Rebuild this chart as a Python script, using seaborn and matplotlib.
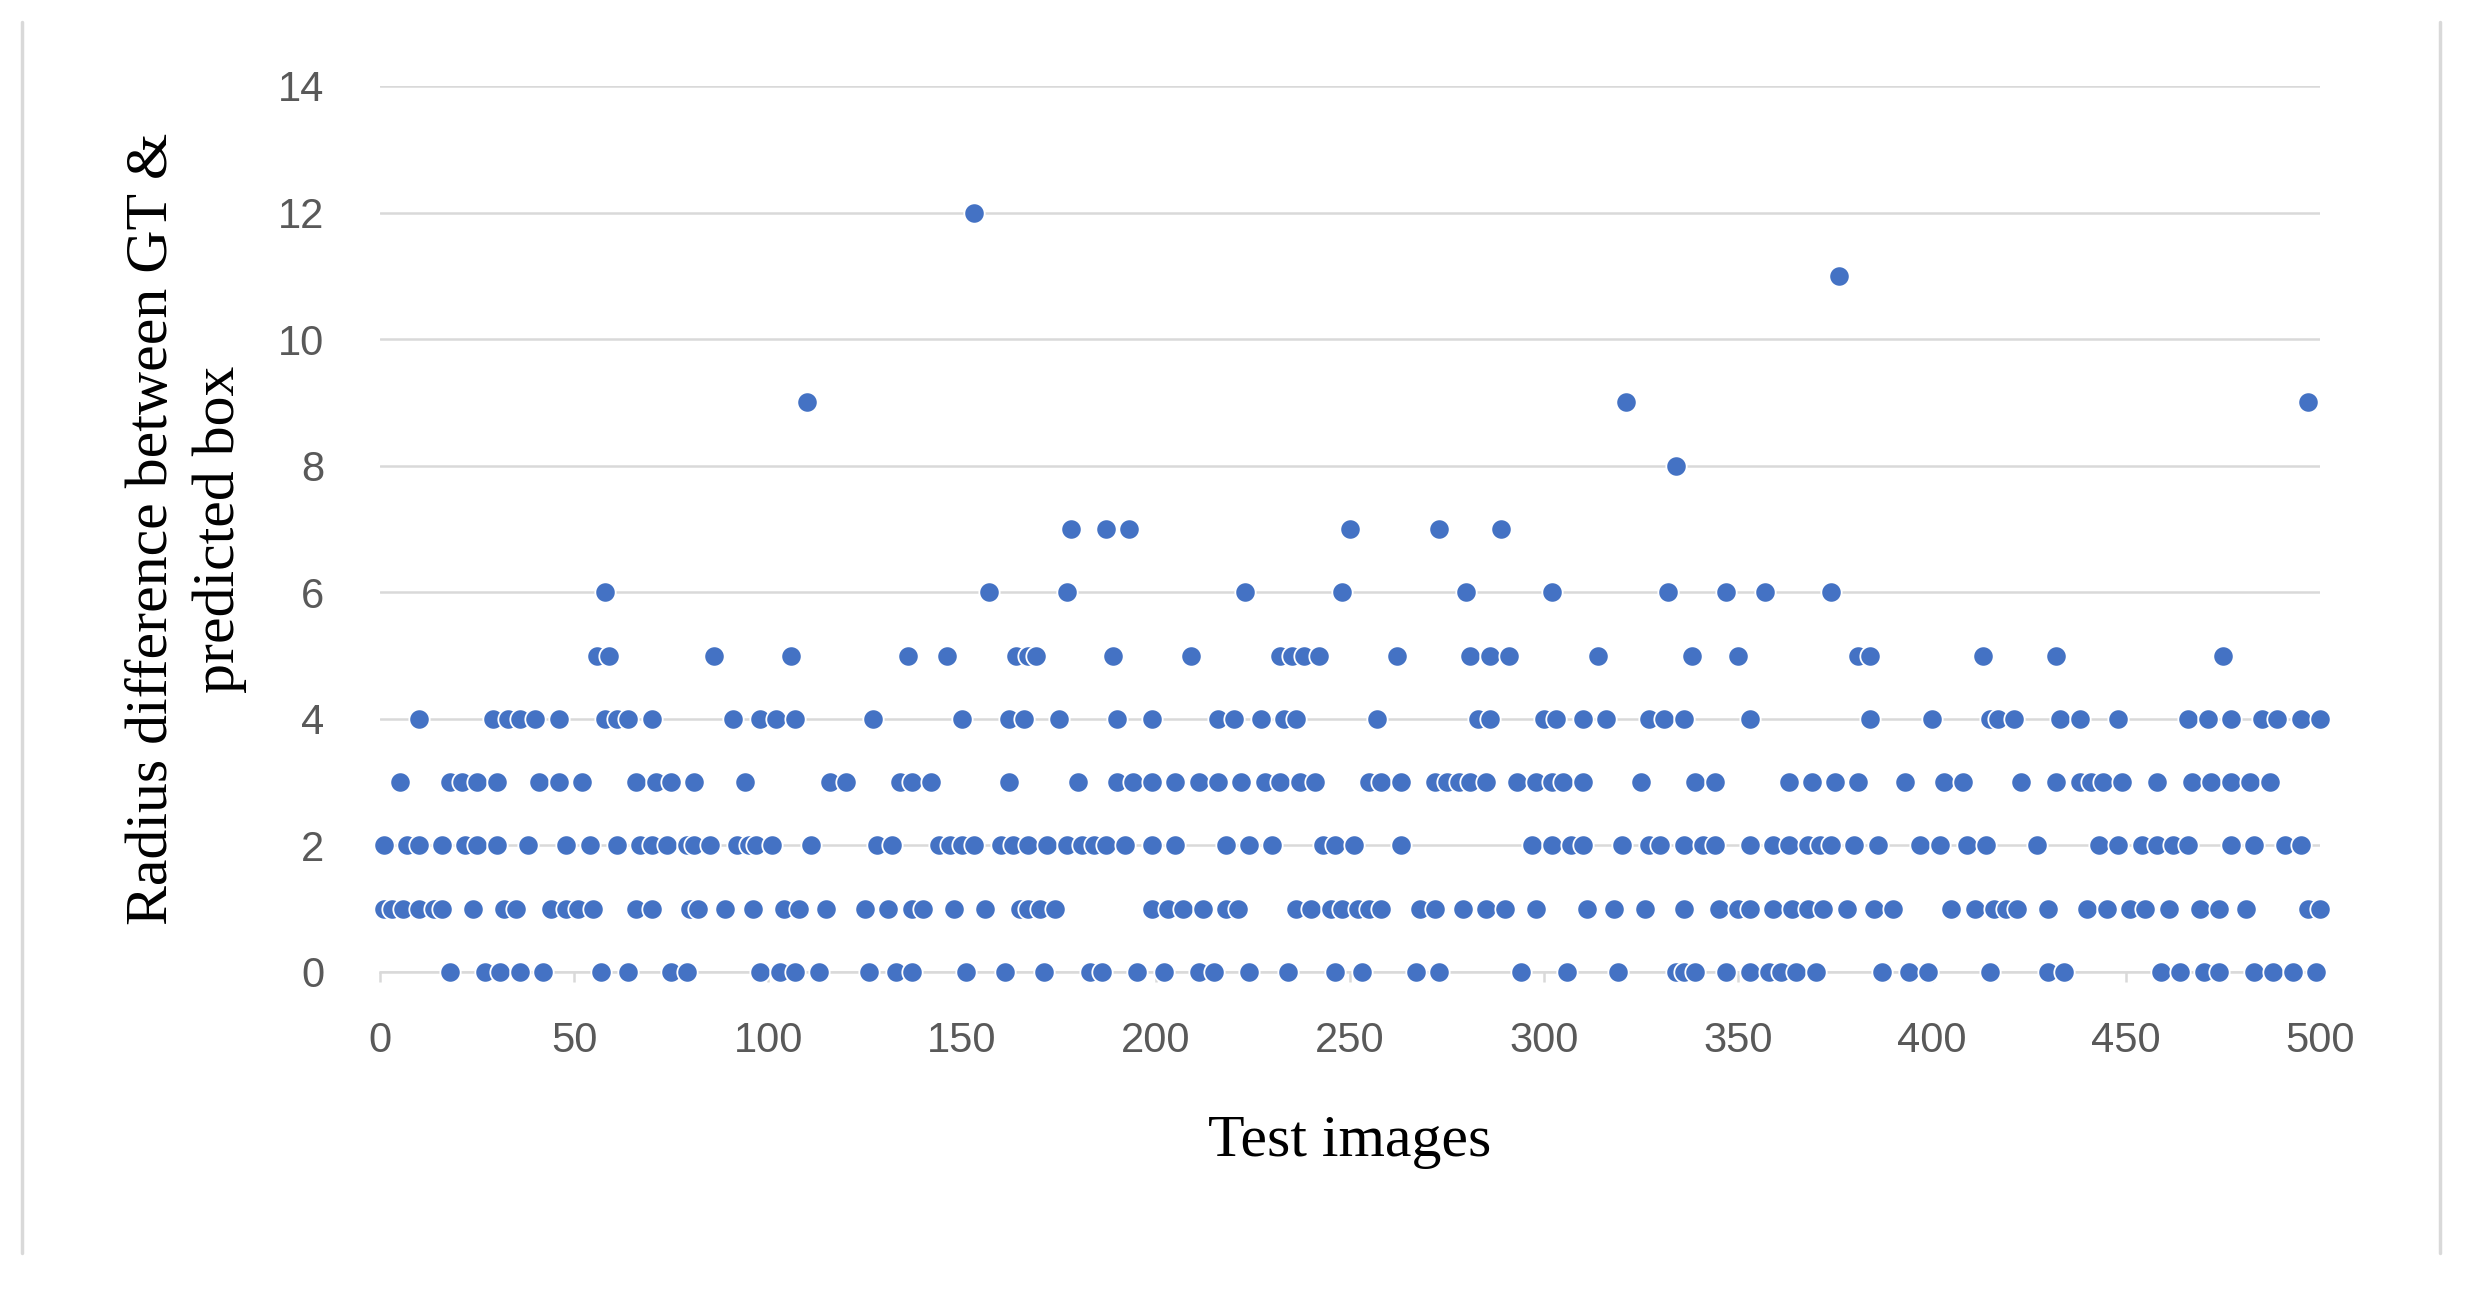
import matplotlib
matplotlib.use("Agg")
import matplotlib.pyplot as plt
from matplotlib.lines import Line2D
import pandas as pd
import seaborn as sns

# Test-image indices grouped by their radius difference value
images_r0 = [18, 27, 31, 36, 42, 57, 64, 75, 79, 98, 103, 107, 113, 126, 133, 137, 151, 161,
             171, 183, 186, 195, 202, 211, 215, 224, 234, 246, 253, 267, 273, 294, 306, 319,
             334, 336, 339, 347, 353, 358, 361, 365, 370, 387, 394, 399, 415, 430, 434, 459,
             464, 470, 474, 483, 488, 493, 499]
images_r1 = [1, 3, 6, 10, 14, 16, 24, 32, 35, 44, 48, 51, 55, 66, 70, 80, 82, 89, 96, 104,
             108, 115, 125, 131, 137, 140, 148, 156, 165, 167, 170, 174, 199, 203, 207, 212,
             218, 221, 236, 240, 245, 248, 252, 255, 258, 268, 272, 279, 285, 290, 298, 311,
             318, 326, 336, 345, 350, 353, 359, 364, 368, 372, 378, 385, 390, 405, 411, 416,
             419, 422, 430, 440, 445, 451, 455, 461, 469, 474, 481, 497, 500]
images_r2 = [1, 7, 10, 16, 22, 25, 30, 38, 48, 54, 61, 67, 70, 74, 79, 81, 85, 92, 95, 97,
             101, 111, 128, 132, 144, 147, 150, 153, 160, 163, 167, 172, 177, 181, 184, 187,
             192, 199, 205, 218, 224, 230, 243, 246, 251, 263, 297, 302, 307, 310, 320, 327,
             330, 336, 341, 344, 353, 359, 363, 368, 371, 374, 380, 386, 397, 402, 409, 414,
             427, 443, 448, 454, 458, 462, 466, 477, 483, 491, 495]
images_r3 = [5, 18, 21, 25, 30, 41, 46, 52, 66, 71, 75, 81, 94, 116, 120, 134, 137, 142, 162,
             180, 190, 194, 199, 205, 211, 216, 222, 228, 232, 237, 241, 255, 258, 263, 272,
             275, 278, 281, 285, 293, 298, 302, 305, 310, 325, 339, 344, 363, 369, 375, 381,
             393, 403, 408, 423, 432, 438, 441, 444, 449, 458, 467, 472, 477, 482, 487]
images_r4 = [10, 29, 33, 36, 40, 46, 58, 61, 64, 70, 91, 98, 102, 107, 127, 150, 162, 166,
             175, 190, 199, 216, 220, 227, 233, 236, 257, 283, 286, 300, 303, 310, 316, 327,
             331, 336, 353, 384, 400, 415, 417, 421, 433, 438, 448, 466, 471, 477, 485, 489,
             495, 500]
images_r5 = [56, 59, 86, 106, 136, 146, 164, 167, 169, 189, 209, 232, 235, 238, 242, 262,
             281, 286, 291, 314, 338, 350, 381, 384, 413, 432, 475]
images_r6 = [58, 157, 177, 223, 248, 280, 302, 332, 347, 357, 374]
images_r7 = [178, 187, 193, 250, 273, 289]
images_r8 = [334]
images_r9 = [110, 321, 497]
images_r11 = [376]
images_r12 = [153]

radius_values = [0, 1, 2, 3, 4, 5, 6, 7, 8, 9, 11, 12]
image_groups = [images_r0, images_r1, images_r2, images_r3, images_r4, images_r5,
                images_r6, images_r7, images_r8, images_r9, images_r11, images_r12]

x_ticks = [0, 50, 100, 150, 200, 250, 300, 350, 400, 450, 500]
y_ticks = [0, 2, 4, 6, 8, 10, 12, 14]

rows = []
for val, group in zip(radius_values, image_groups):
    for img in group:
        rows.append({"Test images": img, "Radius": val})
df = pd.DataFrame(rows)

sns.set_theme(style="white")
plt.rcParams["font.family"] = ["Liberation Sans", "DejaVu Sans"]

fig = plt.figure(figsize=(24.65, 12.91), dpi=100)
ax = fig.add_axes([0.1542, 0.2471, 0.9412 - 0.1542, 0.9334 - 0.2471])

sns.scatterplot(data=df, x="Test images", y="Radius", ax=ax, color="#4472C4",
                s=215, edgecolor="white", linewidth=1.3, zorder=3, legend=False,
                clip_on=False)

ax.set_xlim(0, 500)
ax.set_ylim(0, 14)
ax.set_xticks(x_ticks)
ax.set_yticks(y_ticks)
ax.grid(axis="y", color="#d9d9d9", linewidth=1.8)
ax.grid(axis="x", visible=False)
ax.set_axisbelow(True)
for side in ["top", "right", "left"]:
    ax.spines[side].set_visible(False)
ax.spines["bottom"].set_color("#d9d9d9")
ax.spines["bottom"].set_linewidth(1.8)

ax.tick_params(axis="x", length=7, width=1.8, color="#d9d9d9", labelsize=30,
               labelcolor="#595959", pad=28, bottom=True)
ax.tick_params(axis="y", length=0, labelsize=30, labelcolor="#595959", pad=40)

ax.set_xlabel("Test images", fontsize=43, family="Liberation Serif", color="black")
ax.set_ylabel("Radius difference between GT &\npredicted box", fontsize=43,
              family="Liberation Serif", color="black", linespacing=1.3)
ax.xaxis.set_label_coords(0.5, -0.192)
ax.xaxis.label.set_va("center")
ax.yaxis.set_label_coords(-0.100, 0.5)
ax.yaxis.label.set_va("center")

fig.add_artist(Line2D([0.0089, 0.0089], [0.0294, 0.983], color="#d9d9d9", lw=2.5))
fig.add_artist(Line2D([0.9899, 0.9899], [0.0294, 0.983], color="#d9d9d9", lw=2.5))

fig.savefig("out.png", dpi=100, facecolor="white")
